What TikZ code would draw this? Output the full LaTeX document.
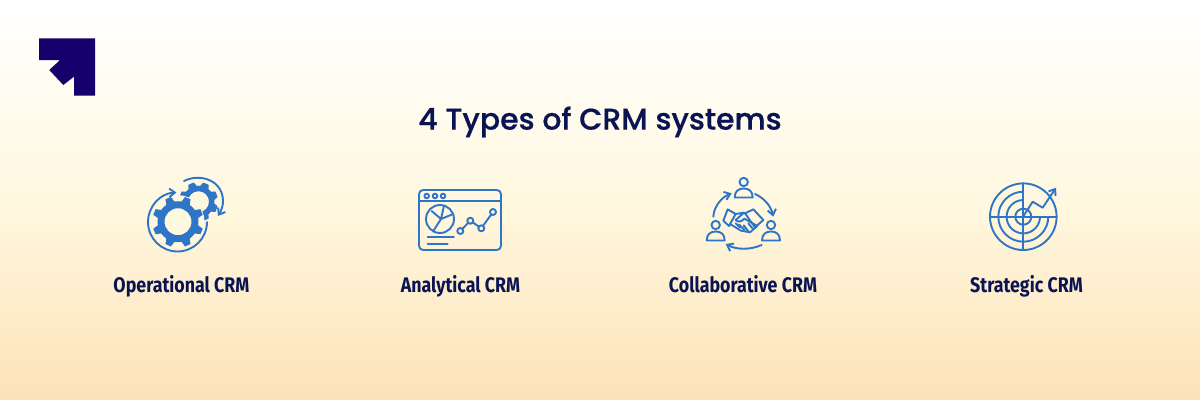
\documentclass[tikz,border=0pt]{standalone}
\usepackage{fontspec}
\setmainfont[FakeBold=0.6]{Poppins Medium}
\newfontfamily\labelfont[FakeStretch=0.845]{Fira Sans Bold}
\usetikzlibrary{arrows.meta}
\definecolor{logoblue}{HTML}{16006B}
\definecolor{titleblue}{HTML}{0B1452}
\definecolor{iconblue}{HTML}{2E75C8}
\definecolor{bgtop}{HTML}{FFFFFF}
\definecolor{bgmid}{HTML}{FFF8E0}
\definecolor{bgbot}{HTML}{FDE2B8}
\tikzset{
    icon/.style={draw=iconblue, line width=1.35pt, line cap=round, line join=round},
    iconarrow/.style={icon, -{Straight Barb[length=4pt,width=6pt]}},
    crmlabel/.style={text=titleblue, font=\labelfont\fontsize{15}{17}\selectfont, anchor=base},
}
\newcommand{\gearicon}[4]{% centre, body radius, hole radius, tip radius
    \fill[iconblue, even odd rule] (#1) circle (#2) (#1) circle (#3);
    \foreach \ang in {0,45,...,315} {
        \fill[iconblue, shift={(#1)}, rotate=\ang+22.5]
            (#2-1,-4.5) -- (#4,-3) -- (#4,3) -- (#2-1,4.5) -- cycle;
    }
}
\newcommand{\personicon}[2]{% head centre
    \draw[icon] (#1,#2) circle (4.2);
    \draw[icon] (#1-9,#2+15.5) .. controls (#1-9,#2+9) and (#1-5,#2+6.5) .. (#1,#2+6.5)
        .. controls (#1+5,#2+6.5) and (#1+9,#2+9) .. (#1+9,#2+15.5) -- cycle;
}
\begin{document}
\begin{tikzpicture}[x=0.25mm, y=-0.25mm]
    \useasboundingbox (0,0) rectangle (1200,400);
    \shade[top color=bgtop, bottom color=bgbot, middle color=bgmid] (0,0) rectangle (1200,400);

    % logo
    \fill[logoblue] (39,38.3) -- (95,38.3) -- (95,95.7) -- (74,95.7) -- (74,76.7) -- (63.3,85)
        -- (49.3,70) -- (60,60) -- (39,60) -- cycle;

    \node[text=titleblue, font=\fontsize{21.3}{24}\selectfont] (title) at (600,122) {4 Types of CRM systems};

    % gears
    \gearicon{198.5,201.7}{16}{10.5}{19.5}
    \fill[bgmid] (178,221.7) circle (26.5);
    \gearicon{178,221.7}{20.5}{13.5}{25.5}
    \draw[iconarrow] (207,222) arc[start angle=0, end angle=268, radius=29.5];
    \draw[iconarrow] (184,181) .. controls (200,173) and (222,180) .. (223,200) .. controls (223.5,205) and (221,211) .. (218,216);

    % browser window
    \draw[icon, rounded corners=3] (419,190) rectangle (501,250);
    \draw[icon] (419,201) -- (501,201);
    \foreach \cx in {426.7,435,443} {
        \draw[icon] (\cx,196) circle (2.3);
    }
    \draw[icon] (440,219) circle (14);
    \draw[icon] (431.7,211) -- (441,219) -- (452,214.5) (441,219) -- (433,231.5) (441,219) -- (444,205.5);
    \draw[icon] (427.7,237.3) -- (454,237.3);
    \draw[icon] (427.7,244) -- (447.7,244);
    \draw[icon] (460.3,231) circle (3) (470.3,220.7) circle (3) (481.3,228.3) circle (3) (493,212) circle (3);
    \draw[icon] (462.4,228.9) -- (468.2,222.8) (472.8,222.4) -- (478.8,226.6) (483,225.9) -- (491.2,214.5);

    % people and handshake
    \personicon{743.7}{182}
    \personicon{715.7}{225}
    \personicon{771}{225}
    \draw[iconarrow] (755,194) .. controls (764,198) and (771,206) .. (773.3,216.7);
    \draw[iconarrow] (761.7,245) .. controls (750,250) and (737,250) .. (725.7,244);
    \draw[iconarrow] (713.3,216.7) .. controls (714,206) and (722,197) .. (731.7,193.3);
    \begin{scope}[shift={(695,170)}, scale=1/3]
        \draw[icon] (98,118) -- (122,132) -- (102,168) -- (85,152) -- cycle;
        \draw[icon] (175,118) -- (150,130) -- (180,172) -- (205,150) -- cycle;
        \draw[icon] (122,132) -- (147,128) -- (122,150) .. controls (130,158) and (140,155) .. (148,146)
            -- (187,168) -- (165,187) -- (138,182) -- (105,162);
        \draw[icon] (122,160) -- (135,172) (133,164) -- (148,180) (146,166) -- (160,184) (160,160) -- (174,177);
    \end{scope}

    % radar
    \begin{scope}
        \clip (990,183) rectangle (1023.3,250) (1023.3,216.7) rectangle (1057,250);
        \draw[icon] (1023.3,216.7) circle (25) (1023.3,216.7) circle (16.7);
    \end{scope}
    \draw[icon] (1023.3,216.7) circle (33.3) (1023.3,216.7) circle (8);
    \draw[icon] (1023.3,183.4) -- (1023.3,250) (990,216.7) -- (1056.6,216.7);
    \draw[iconarrow] (1023,216.7) -- (1032.7,201.7) -- (1042.7,207.7) -- (1056,187.7);

    \node[crmlabel] (operational) at (181.5,292.5) {Operational CRM};
    \node[crmlabel] (analytical) at (460.5,292.5) {Analytical CRM};
    \node[crmlabel] (collaborative) at (743,292.5) {Collaborative CRM};
    \node[crmlabel] (strategic) at (1026.5,292.5) {Strategic CRM};
\end{tikzpicture}
\end{document}
